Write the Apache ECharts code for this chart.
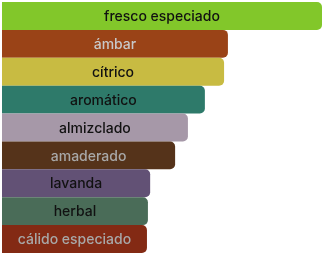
<!DOCTYPE html>
<html><head><meta charset="utf-8">
<script src="https://cdn.jsdelivr.net/npm/echarts@6/dist/echarts.min.js"></script>
<style>html,body{margin:0;padding:0;background:#fff}#c{width:327px;height:262px}</style>
</head><body><div id="c"></div>
<script>
const categories = ["fresco especiado","ámbar","cítrico","aromático","almizclado","amaderado","lavanda","herbal","cálido especiado"];
const values = [100, 70.6, 69.4, 63.4, 58.1, 54.1, 46.3, 45.6, 45.3];
const barColors = ["#82c72a","#9a4317","#c8bb42","#2e7a6a","#a698a8","#55331a","#625175","#4a6c58","#832a14"];
const labelColors = ["#111111","#c8c8c8","#111111","#111111","#111111","#a8a8a8","#111111","#111111","#a8a8a8"];

const chart = echarts.init(document.getElementById('c'), null, {renderer:'canvas'});
chart.setOption({
  animation:false,
  grid:{left:2,right:5,top:2,bottom:9,containLabel:false},
  xAxis:{type:'value',min:0,max:100,show:false},
  yAxis:{type:'category',data:categories,inverse:true,show:false},
  series:[{
    type:'bar',
    barCategoryGap:'0%',
    data: values.map((v,i)=>({
      value:v,
      itemStyle:{color:barColors[i],borderRadius:[0,5,5,0]},
      label:{color:labelColors[i]}
    })),
    label:{show:true,position:'inside',formatter:p=>p.name,fontFamily:'Inter',fontSize:14,fontWeight:500,offset:[0,1]}
  }]
});
</script></body></html>
